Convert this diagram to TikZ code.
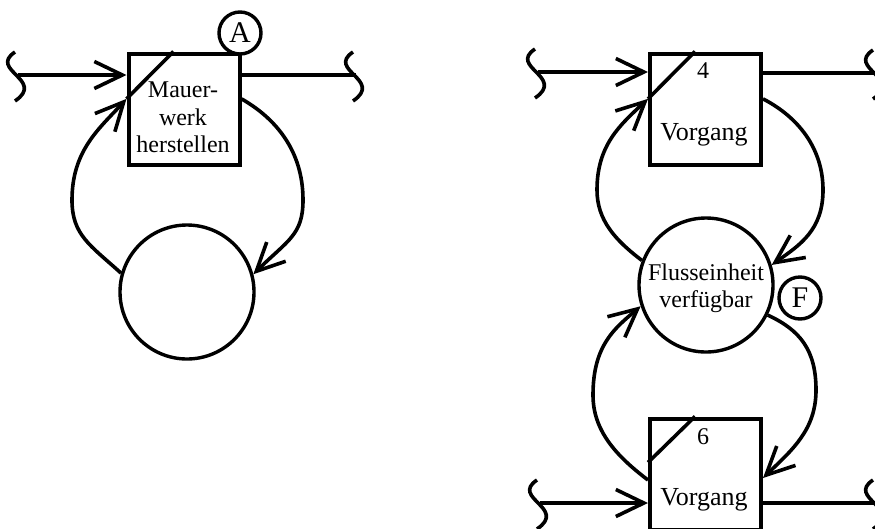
\documentclass[tikz,border=0pt]{standalone}
\usepackage{fontspec}
\setmainfont{Liberation Serif}
\usetikzlibrary{arrows.meta, calc}

\tikzset{
  vorgangbox/.style={draw, line width=4pt, minimum size=111pt, inner sep=0pt},
  stelle/.style={draw, circle, line width=3.4pt, minimum size=134pt, inner sep=0pt},
  marke/.style={draw, circle, fill=white, line width=3.4pt, minimum size=42pt, inner sep=0pt, font=\fontsize{30}{30}\selectfont},
  beschr/.style={inner sep=0pt, font=\fontsize{24}{27.5}\selectfont},
  linie/.style={line width=3.6pt},
  fluss/.style={linie, -{Straight Barb[length=28pt,width=27pt]}},
}

% Bruchstelle (Wellenlinie) an einem Leitungsende
\newcommand{\bruch}[1]{\draw[linie] ($(#1)+(-3,-23)$) .. controls ($(#1)+(-30,-5)$) and ($(#1)+(28,5)$) .. ($(#1)+(-3,26)$);}

\begin{document}
\begin{tikzpicture}[x=1pt, y=-1pt]
    \clip (0,0) rectangle (875,528);

%%%%%%%%%%%%%%%%%%%%%%%%%%%%%%%%%%%%%%%%%%
% links: Mauerwerk herstellen
    \node[vorgangbox] (vorgang1) at (184,109) {};
    \node[marke] (markeA) at (240,33) {A};
    \node[stelle] (stelle1) at (187,292) {};
    \node[beschr] (txt1) at (183,119.5) {
        \begin{tabular}{@{}c@{}}
        Mauer-\\
        werk\\
        herstellen
        \end{tabular}
    };
    \draw[linie] (vorgang1.170) -- ($(vorgang1.north west)+(47,0)$);

    \coordinate (ein1) at (18,75);
    \coordinate (aus1) at (356,75);
    \bruch{ein1}
    \bruch{aus1}
    \draw[fluss] (ein1) -- (ein1 -| vorgang1.west);
    \draw[linie] (vorgang1.east |- aus1) -- (aus1);

    \draw[fluss] (stelle1.164) .. controls (90,245) and (72,235) .. (72,200)
        .. controls (72,150) and (100,128) .. (vorgang1.170);
    \draw[fluss] (vorgang1.10) .. controls (275,118) and (303,150) .. (303,200)
        .. controls (303,235) and (288,240) .. (stelle1.15);

%%%%%%%%%%%%%%%%%%%%%%%%%%%%%%%%%%%%%%%%%%
% rechts: Vorgang 4, Flusseinheit, Vorgang 6
    \node[vorgangbox] (vorgang4) at (705.5,109) {};
    \node[stelle] (flusseinheit) at (706,285) {};
    \node[marke] (markeF) at (800,298) {F};
    \node[vorgangbox] (vorgang6) at (705.5,474) {};

    \node[beschr] (nr4) at (703,71) {4};
    \node[beschr, font=\fontsize{26}{30}\selectfont] (txt4) at (704,134.5) {Vorgang};
    \node[beschr] (nr6) at (703,437) {6};
    \node[beschr, font=\fontsize{26}{30}\selectfont] (txt6) at (704,499.5) {Vorgang};
    \node[beschr, font=\fontsize{24}{27}\selectfont] (txtF) at (706,289) {
        \begin{tabular}{@{}c@{}}
        Flusseinheit\\
        verfügbar
        \end{tabular}
    };

    \draw[linie] (vorgang4.170) -- ($(vorgang4.north west)+(47,0)$);
    \draw[linie] ($(vorgang6.north west)+(0,46)$) -- ($(vorgang6.north west)+(47,0)$);

    \coordinate (ein4) at (538,72);
    \coordinate (aus4) at (876,73);
    \coordinate (ein6) at (540,503);
    \coordinate (aus6) at (876,503);
    \bruch{ein4}
    \bruch{aus4}
    \bruch{ein6}
    \bruch{aus6}
    \draw[fluss] (ein4) -- (ein4 -| vorgang4.west);
    \draw[linie] (vorgang4.east |- aus4) -- (aus4);
    \draw[fluss] (ein6) -- (ein6 -| vorgang6.west);
    \draw[linie] (vorgang6.east |- aus6) -- (aus6);

    \draw[fluss] (flusseinheit.159) .. controls (615,240) and (597,220) .. (597,190)
        .. controls (597,145) and (620,125) .. (vorgang4.170);
    \draw[fluss] (vorgang4.10) .. controls (800,118) and (823,150) .. (823,190)
        .. controls (823,230) and (800,245) .. (flusseinheit.17);
    \draw[fluss] (vorgang6.186) .. controls (615,455) and (593,430) .. (593,395)
        .. controls (593,345) and (615,328) .. (flusseinheit.198);
    \draw[fluss] (flusseinheit.334) .. controls (800,330) and (816,350) .. (816,390)
        .. controls (816,430) and (792,450) .. (vorgang6.356);
\end{tikzpicture}
\end{document}
